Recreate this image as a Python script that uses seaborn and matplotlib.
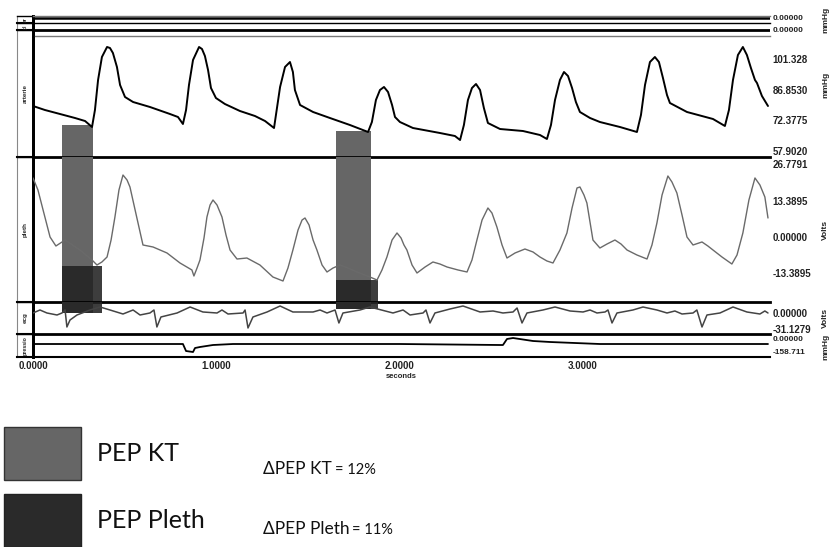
import numpy as np
import pandas as pd
import matplotlib
matplotlib.use("Agg")
import matplotlib.pyplot as plt
from matplotlib.patches import Patch
from matplotlib.font_manager import FontProperties
import seaborn as sns

# traces, time in seconds
art_t = [0.000, 0.065, 0.147, 0.229, 0.284, 0.322, 0.338, 0.355, 0.376, 0.404, 0.420, 0.436, 0.458,
         0.475, 0.502, 0.546, 0.638, 0.747, 0.791, 0.818, 0.835, 0.851, 0.873, 0.906, 0.922, 0.938,
         0.955, 0.971, 0.998, 1.047, 1.129, 1.211, 1.266, 1.315, 1.348, 1.375, 1.402, 1.418, 1.429,
         1.457, 1.528, 1.620, 1.729, 1.828, 1.849, 1.871, 1.893, 1.915, 1.937, 1.959, 1.975, 2.002,
         2.073, 2.220, 2.302, 2.330, 2.351, 2.373, 2.395, 2.417, 2.439, 2.460, 2.482, 2.548, 2.673,
         2.766, 2.804, 2.826, 2.848, 2.875, 2.897, 2.919, 2.941, 2.962, 2.984, 3.039, 3.093, 3.202,
         3.295, 3.317, 3.339, 3.366, 3.393, 3.415, 3.437, 3.459, 3.475, 3.568, 3.710, 3.775, 3.797,
         3.819, 3.846, 3.873, 3.895, 3.917, 3.939, 3.950, 3.977, 4.010]
art_v = [79.17, 77.28, 75.40, 73.51, 72.09, 69.27, 77.28, 91.43, 102.27, 106.99, 106.51, 104.16, 97.56,
         89.07, 83.41, 81.05, 78.70, 75.40, 73.98, 70.68, 77.28, 89.07, 100.86, 106.99, 106.04, 102.74,
         96.14, 87.65, 82.94, 80.11, 76.81, 74.45, 72.09, 68.79, 88.13, 97.56, 99.91, 95.20, 86.71,
         79.64, 76.34, 73.51, 70.21, 66.91, 71.62, 82.00, 86.71, 88.13, 85.77, 79.64, 73.98, 71.62,
         68.79, 66.44, 65.02, 63.13, 70.21, 82.00, 87.65, 89.54, 86.71, 78.22, 71.15, 68.32, 67.38,
         65.49, 63.61, 70.21, 82.00, 91.43, 95.20, 93.31, 87.65, 81.05, 76.34, 73.51, 71.62, 69.27,
         66.91, 74.93, 89.07, 99.91, 102.27, 99.91, 92.37, 84.35, 80.58, 76.34, 73.04, 69.74, 77.28,
         91.43, 103.21, 106.99, 103.21, 97.08, 91.43, 90.01, 83.88, 79.17]

pleth_t = [0.000, 0.027, 0.055, 0.093, 0.125, 0.175, 0.256, 0.322, 0.349, 0.376, 0.404, 0.426, 0.447,
           0.469, 0.491, 0.513, 0.529, 0.551, 0.573, 0.600, 0.655, 0.731, 0.802, 0.867, 0.878, 0.895,
           0.911, 0.933, 0.949, 0.966, 0.982, 1.004, 1.031, 1.053, 1.075, 1.113, 1.167, 1.238, 1.309,
           1.364, 1.391, 1.418, 1.446, 1.468, 1.484, 1.506, 1.528, 1.549, 1.577, 1.604, 1.637, 1.675,
           1.718, 1.768, 1.838, 1.877, 1.904, 1.931, 1.959, 1.986, 2.008, 2.024, 2.040, 2.068, 2.095,
           2.139, 2.182, 2.220, 2.259, 2.319, 2.368, 2.395, 2.422, 2.450, 2.482, 2.504, 2.531, 2.559,
           2.586, 2.630, 2.684, 2.728, 2.766, 2.804, 2.837, 2.875, 2.913, 2.941, 2.968, 2.984, 3.006,
           3.022, 3.055, 3.093, 3.132, 3.175, 3.208, 3.241, 3.295, 3.350, 3.377, 3.404, 3.432, 3.464,
           3.486, 3.513, 3.541, 3.568, 3.601, 3.650, 3.682, 3.710, 3.759, 3.813, 3.841, 3.873, 3.906,
           3.939, 3.966, 3.993, 4.010]
pleth_v = [21.77, 17.34, 9.96, 0.00, -3.32, -1.11, -4.80, -8.48, -10.33, -9.22, -7.38, -1.11, 7.38,
           17.34, 22.87, 21.03, 18.45, 11.80, 5.16, -2.95, -3.69, -5.90, -9.59, -12.17, -14.39, -11.44,
           -8.48, -0.37, 7.38, 11.80, 13.65, 11.80, 7.38, 0.74, -4.80, -8.12, -7.75, -10.33, -14.76,
           -16.23, -11.44, -4.80, 2.58, 6.27, 7.01, 4.43, -1.11, -4.80, -10.33, -12.91, -11.44, -10.33,
           -11.44, -12.91, -14.76, -15.86, -12.17, -7.38, -1.11, 1.48, -0.37, -2.95, -4.80, -10.33, -13.28,
           -11.07, -9.22, -9.96, -11.07, -12.17, -12.91, -8.48, -1.11, 6.27, 10.70, 8.85, 3.69, -2.95,
           -7.75, -5.90, -4.43, -5.53, -7.38, -8.85, -9.59, -4.80, 1.48, 10.70, 18.08, 18.45, 15.49,
           12.54, -1.11, -4.06, -2.58, -1.11, -2.58, -4.80, -6.64, -8.12, -2.95, 5.16, 15.49, 22.50,
           20.29, 16.23, 8.12, 0.00, -2.95, -1.84, -3.32, -4.80, -7.38, -9.96, -6.64, 1.48, 13.65,
           21.77, 19.18, 14.76, 7.01]

ecg_t = [0.000, 0.038, 0.076, 0.131, 0.158, 0.175, 0.185, 0.202, 0.240, 0.311, 0.366, 0.420, 0.491,
         0.546, 0.584, 0.638, 0.660, 0.676, 0.698, 0.786, 0.857, 0.927, 1.004, 1.031, 1.064, 1.146,
         1.157, 1.173, 1.200, 1.277, 1.348, 1.418, 1.528, 1.566, 1.604, 1.648, 1.669, 1.691, 1.784,
         1.838, 1.964, 2.019, 2.057, 2.128, 2.144, 2.166, 2.193, 2.275, 2.346, 2.439, 2.510, 2.564,
         2.619, 2.641, 2.668, 2.695, 2.782, 2.848, 2.930, 3.001, 3.039, 3.077, 3.121, 3.137, 3.159,
         3.186, 3.273, 3.328, 3.404, 3.459, 3.502, 3.541, 3.601, 3.622, 3.650, 3.677, 3.748, 3.819,
         3.895, 3.966, 3.993, 4.010]
ecg_v = [0.0, 5.84, 0.0, -3.89, 0.0, 5.84, -27.24, -13.62, -3.89, 5.84, 11.67, 5.84, -1.95,
         5.84, -3.89, 0.0, 5.84, -27.24, -7.78, 0.0, 11.67, 1.95, 0.0, 5.84, -1.95, 0.0,
         5.84, -29.18, -7.78, 1.95, 13.62, 1.95, 1.95, 5.84, 0.0, 5.84, -19.46, 0.0, 5.84,
         11.67, 0.0, 5.84, -3.89, 0.0, 5.84, -19.46, 0.0, 7.78, 13.62, 1.95, 3.89, 0.0,
         1.95, 9.73, -19.46, 0.0, 5.84, 11.67, 3.89, 1.95, 5.84, 0.0, 1.95, 5.84, -19.46,
         0.0, 5.84, 11.67, 5.84, 0.0, 3.89, -1.95, 0.0, 5.84, -27.24, -3.89, 0.0, 11.67,
         1.95, -1.95, 3.89, 0.0]

resp_t = [0.000, 0.638, 0.818, 0.835, 0.873, 0.884, 0.911, 0.982, 1.091, 2.002, 2.548, 2.564,
          2.586, 2.619, 2.728, 2.821, 2.957, 3.093, 4.010]
resp_v = [-26.5, -26.5, -26.5, -211.6, -238.1, -132.3, -105.8, -52.9, -26.5, -26.5, -52.9, -52.9,
          105.8, 132.3, 52.9, 26.5, 0.0, -26.5, -26.5]

flat_t = [0.0, 4.02]
flat_v = [0.0, 0.0]

# PEP windows (s); box tops sit on the traces
pep_start = [0.158, 1.653]
kt_end = [0.328, 1.845]
pleth_end = [0.377, 1.885]
kt_top_art = [70.2, 67.4]
pleth_box_top = [-10.7, -15.9]
box_bottom_ecg = [0.0, 7.8]

art_ticks = [101.328, 86.8530, 72.3775, 57.9020]
art_labels = ["101.328", "86.8530", "72.3775", "57.9020"]
pleth_ticks = [26.7791, 13.3895, 0.0, -13.3895]
pleth_labels = ["26.7791", "13.3895", "0.00000", "-13.3895"]
ecg_ticks = [0.0, -31.1279]
ecg_labels = ["0.00000", "-31.1279"]
resp_ticks = [0.0, -158.711]
resp_labels = ["0.00000", "-158.711"]
x_ticks = [0, 1, 2, 3]
x_labels = ["0.0000", "1.0000", "2.0000", "3.0000"]

legend_labels = ["PEP KT", "PEP Pleth"]
delta_names = ["\u0394PEP KT", "\u0394PEP Pleth"]
delta_values = ["= 12%", "= 11%"]

sns.set_style("white")
plt.rcParams["font.family"] = ["Liberation Sans", "DejaVu Sans"]
LEG_FONT = ["Lato", "DejaVu Sans"]

W, H = 834, 547
fig = plt.figure(figsize=(W / 100, H / 100), dpi=100)
fig.patch.set_facecolor("white")

GRAY = "#666666"
DARK = "#222222"
XMAX = 4.021


def box(x0, y0, x1, y1):
    return [x0 / W, 1 - y1 / H, (x1 - x0) / W, (y1 - y0) / H]


def panel(top, bottom, ylim, ticks, labels, unit=None, unit_y=0.5, bottom_lw=2.0, bottom_col="black",
          size=7):
    ax = fig.add_axes(box(33, top, 770, bottom))
    ax.set_facecolor("none")
    ax.set_xlim(0, XMAX)
    ax.set_ylim(*ylim)
    ax.set_xticks([])
    for s in ["top", "right"]:
        ax.spines[s].set_visible(False)
    ax.spines["left"].set_linewidth(2)
    ax.spines["left"].set_color("black")
    ax.spines["bottom"].set_linewidth(bottom_lw)
    ax.spines["bottom"].set_color(bottom_col)
    ax.yaxis.tick_right()
    ax.set_yticks(ticks, labels, fontsize=size, fontweight="bold", color="#222222")
    ax.tick_params(axis="y", length=0, pad=2)
    if unit:
        ax.set_ylabel(unit, fontsize=6, fontweight="bold", color="#222222")
        ax.yaxis.set_label_position("right")
        ax.yaxis.set_label_coords(1.0706, unit_y)
    return ax


def label_cell(top, bottom, text, size=4.5):
    ax = fig.add_axes(box(17, top, 33, bottom))
    ax.set_facecolor("none")
    ax.set_xticks([])
    ax.set_yticks([])
    ax.spines["left"].set_color("#888888")
    ax.spines["left"].set_linewidth(0.8)
    ax.spines["right"].set_linewidth(2)
    ax.spines["top"].set_linewidth(1)
    ax.spines["bottom"].set_linewidth(1.5)
    for s in ax.spines.values():
        if s is not ax.spines["left"]:
            s.set_color("black")
    ax.text(0.5, 0.5, text, rotation=90, ha="center", va="center", transform=ax.transAxes,
            fontsize=size, fontweight="bold")
    return ax


# label column
label_cell(16, 23, "ar", 3.5)
label_cell(23, 30, "pl", 3.5)
label_cell(30, 157, "arterie")
label_cell(157, 302, "pleth")
label_cell(302, 334, "ecg")
label_cell(334, 357, "pressio", 3.8)

# channels
ax_c1 = panel(16, 23, (-5.5, 1.5), [0.0], ["0.00000"], "mmHg", 0.4, bottom_lw=1.0, size=6)
ax_c1.spines["top"].set_visible(True)
ax_c1.spines["top"].set_color("#777777")
ax_c1.spines["top"].set_linewidth(1)
ax_c2 = panel(23, 36, (-6, 7), [0.0], ["0.00000"], bottom_lw=1.0, bottom_col="#777777", size=6)
ax_art = panel(36, 157, (55.12, 112.17), art_ticks, art_labels, "mmHg", 0.6)
ax_pl = panel(157, 302, (-23.98, 29.51), pleth_ticks, pleth_labels, "Volts", 0.5)
ax_ecg = panel(302, 334, (-40.9, 21.4), ecg_ticks, ecg_labels, "Volts", 0.5)
ax_rs = panel(334, 357, (-370, 238), resp_ticks, resp_labels, "mmHg", 0.43, bottom_lw=1.5, size=6)
rs_lab = ax_rs.get_yticklabels()
rs_lab[0].set_verticalalignment("bottom")
rs_lab[1].set_verticalalignment("top")

ax_rs.set_xticks(x_ticks, x_labels, fontsize=7, fontweight="bold", color="#222222")
ax_rs.tick_params(axis="x", length=0, pad=3)
ax_rs.set_xlabel("seconds", fontsize=5.5, fontweight="bold", labelpad=1)

# PEP boxes
for i in range(len(pep_start)):
    s, e1, e2 = pep_start[i], kt_end[i], pleth_end[i]
    ax_art.fill_between([s, e1], kt_top_art[i], ax_art.get_ylim()[0], color=GRAY, lw=0, zorder=1)
    ax_pl.fill_between([s, e1], ax_pl.get_ylim()[1], ax_pl.get_ylim()[0], color=GRAY, lw=0, zorder=1)
    ax_pl.fill_between([s, e2], pleth_box_top[i], ax_pl.get_ylim()[0], color=DARK, alpha=0.88, lw=0, zorder=1.1)
    ax_ecg.fill_between([s, e1], ax_ecg.get_ylim()[1], box_bottom_ecg[i], color=GRAY, lw=0, zorder=1)
    ax_ecg.fill_between([s, e2], ax_ecg.get_ylim()[1], box_bottom_ecg[i], color=DARK, alpha=0.88, lw=0, zorder=1.1)

# traces
sns.lineplot(x=flat_t, y=flat_v, ax=ax_c1, color="black", linewidth=1.8, estimator=None)
sns.lineplot(x=flat_t, y=flat_v, ax=ax_c2, color="black", linewidth=2.0, estimator=None)
sns.lineplot(x=art_t, y=art_v, ax=ax_art, color="black", linewidth=1.4, estimator=None, zorder=3)
sns.lineplot(x=pleth_t, y=pleth_v, ax=ax_pl, color="#6a6a6a", linewidth=1.0, estimator=None, zorder=3)
sns.lineplot(x=ecg_t, y=ecg_v, ax=ax_ecg, color="#444444", linewidth=1.1, estimator=None, zorder=3)
sns.lineplot(x=resp_t, y=resp_v, ax=ax_rs, color="black", linewidth=1.3, estimator=None, zorder=3)

# legend block
ax_leg = fig.add_axes([0, 0, 1, 0.3])
ax_leg.axis("off")
handles = [Patch(facecolor=GRAY, edgecolor="#333333", linewidth=1),
           Patch(facecolor="#2a2a2a", edgecolor="#222222", linewidth=1)]
fig.legend(handles, legend_labels, loc="upper left", bbox_to_anchor=(4 / W, 1 - 427 / H),
           frameon=False, borderpad=0, borderaxespad=0, handlelength=3.08, handleheight=2.885,
           handletextpad=0.64, labelspacing=0.56, labelcolor="#111111",
           prop=FontProperties(family=LEG_FONT, weight="normal", size=18))

for i, ybase in enumerate([474, 534]):
    t1 = ax_leg.text(263 / W, 1 - ybase / H, delta_names[i], transform=fig.transFigure,
                     fontsize=12.5, family=LEG_FONT, va="baseline", ha="left", color="#111111")
    ax_leg.annotate(delta_values[i], xy=(1, 0), xycoords=t1, xytext=(2, 0), color="#111111",
                    textcoords="offset points", fontsize=10.5, family=LEG_FONT, va="bottom", ha="left")

fig.savefig("out.png", dpi=100, facecolor="white")
